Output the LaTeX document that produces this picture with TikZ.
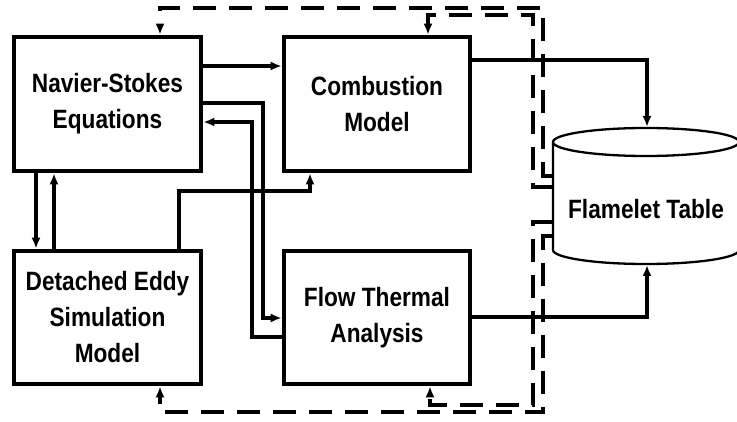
\documentclass[tikz,border=0pt]{standalone}
\usepackage{fontspec}
\newfontfamily\labelfont{Liberation Sans}[FakeStretch=0.855]
\usetikzlibrary{arrows.meta}
\tikzset{
  box/.style={draw, line width=4.6pt, align=center, inner sep=0pt,
    font=\labelfont\bfseries\fontsize{26.5}{36}\selectfont},
  lbl/.style={inner sep=0pt, font=\labelfont\bfseries\fontsize{26.5}{36}\selectfont},
  conn/.style={line width=3.6pt, -{Latex[length=11pt,width=9pt]}},
  dconn/.style={conn, dash pattern=on 23pt off 13pt},
  cyl/.style={draw, line width=2.3pt, fill=white},
}
\begin{document}
\begin{tikzpicture}[x=1pt,y=-1pt]
\useasboundingbox (0,0) rectangle (737,422);
% boxes
\node[box, minimum width=187pt, minimum height=134pt] (ns) at (107.5,104) {Navier-Stokes\\Equations};
\node[box, minimum width=186pt, minimum height=134pt] (comb) at (377,104) {Combustion\\Model};
\node[box, minimum width=187pt, minimum height=133pt] (des) at (107.5,317.5) {Detached Eddy\\Simulation\\Model};
\node[box, minimum width=186pt, minimum height=133pt] (fta) at (377,317.5) {Flow Thermal\\Analysis};
% cylinder
\draw[cyl] (553,142) -- (553,250)
  .. controls (553,257.7) and (594.6,264) .. (646,264)
  .. controls (697.4,264) and (739,257.7) .. (739,250) -- (739,142);
\draw[cyl] (646,142) ellipse [x radius=93, y radius=14];
\node[lbl] (ft) at (646,209) {Flamelet Table};
\coordinate (cyltop) at (647,127);
\coordinate (cylbot) at (647,265);
\coordinate (cylA) at (552,176);
\coordinate (cylB) at (552,187);
\coordinate (cylC) at (552,222);
\coordinate (cylD) at (552,236);
% solid connectors
\draw[conn] (ns.east |- 0,66) -- (comb.west |- 0,66);
\draw[conn] (ns.east |- 0,103) -| (263,318) -- (fta.west |- 0,318);
\draw[conn] (fta.west |- 0,337) -| (252,122) -- (ns.east |- 0,122);
\draw[conn] (ns.south -| 36,0) -- (des.north -| 36,0);
\draw[conn] (des.north -| 54,0) -- (ns.south -| 54,0);
\draw[conn] (des.north -| 179,0) |- (310,191) -- (comb.south -| 310,0);
\draw[conn] (comb.east |- 0,60) -| (cyltop);
\draw[conn] (fta.east |- 0,317) -| (cylbot);
% dashed connectors
\draw[dconn] (cylA) -| (543,8) -| (ns.north -| 160,0);
\draw[dconn] (cylB) -| (533,15) -| (comb.north -| 428,0);
\draw[dconn] (cylC) -| (533,405) -| (fta.south -| 430,0);
\draw[dconn] (cylD) -| (543,412) -| (des.south -| 160,0);
\end{tikzpicture}
\end{document}
